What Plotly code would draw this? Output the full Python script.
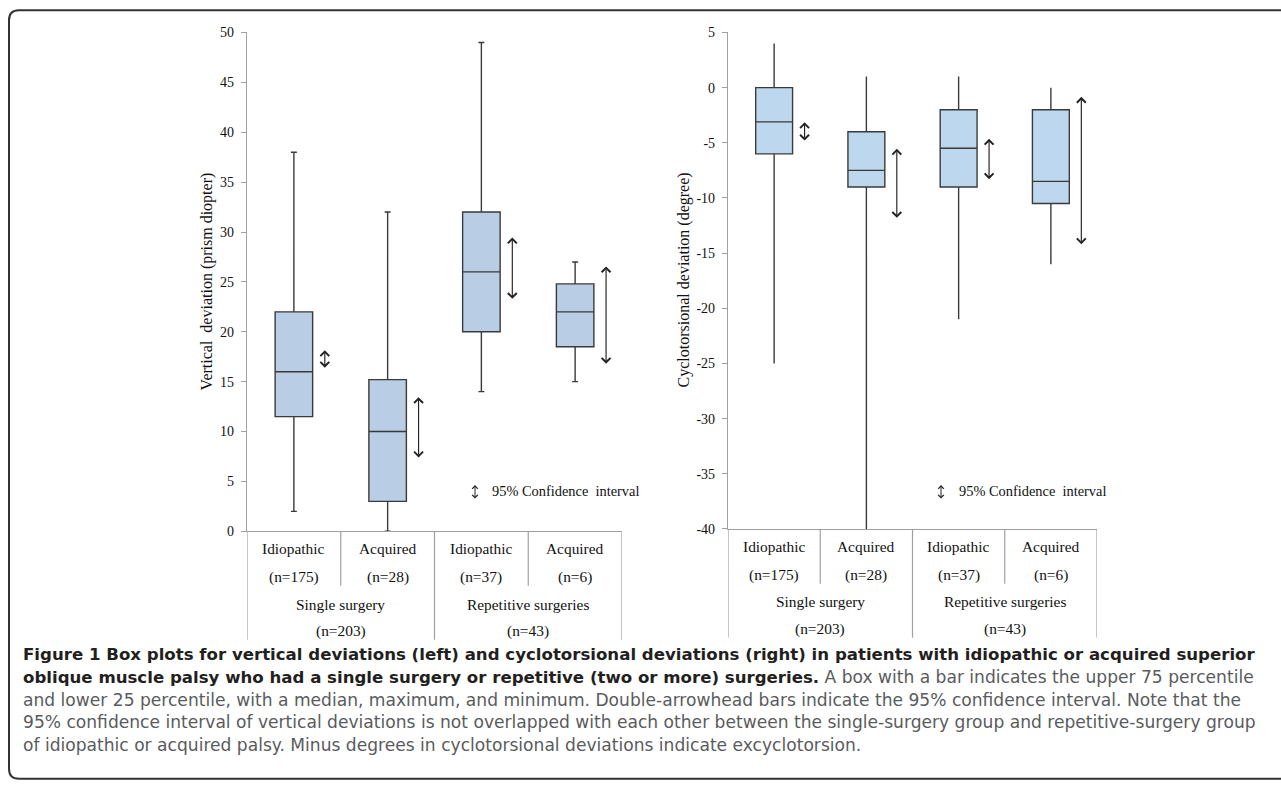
import plotly.graph_objects as go

# ---------------- data ----------------
sub_labels = ["Idiopathic", "Acquired", "Idiopathic", "Acquired"]
sub_n = ["(n=175)", "(n=28)", "(n=37)", "(n=6)"]
group_labels = ["Single surgery", "Repetitive surgeries"]
group_n = ["(n=203)", "(n=43)"]

vert_min = [2, 0, 14, 15]
vert_q1 = [11.5, 3, 20, 18.5]
vert_med = [16, 10, 26, 22]
vert_q3 = [22, 15.2, 32, 24.8]
vert_max = [38, 32, 49, 27]
vert_ci_low = [16.4, 7.4, 23.3, 16.8]
vert_ci_high = [18.3, 13.6, 29.6, 26.7]
vert_ticks = [0, 5, 10, 15, 20, 25, 30, 35, 40, 45, 50]

cyc_min = [-25, -40, -21, -16]
cyc_q1 = [-6, -9, -9, -10.5]
cyc_med = [-3.1, -7.5, -5.5, -8.5]
cyc_q3 = [0, -4, -2, -2]
cyc_max = [4, 1, 1, 0]
cyc_ci_low = [-4.8, -11.8, -8.3, -14.2]
cyc_ci_high = [-3.0, -5.4, -4.5, -0.7]
cyc_ticks = [-40, -35, -30, -25, -20, -15, -10, -5, 0, 5]

caption_lines = [
    ("Figure 1 Box plots for vertical deviations (left) and cyclotorsional deviations (right) in patients with idiopathic or acquired superior", ""),
    ("oblique muscle palsy who had a single surgery or repetitive (two or more) surgeries.", " A box with a bar indicates the upper 75 percentile"),
    ("", "and lower 25 percentile, with a median, maximum, and minimum. Double-arrowhead bars indicate the 95% confidence interval. Note that the"),
    ("", "95% confidence interval of vertical deviations is not overlapped with each other between the single-surgery group and repetitive-surgery group"),
    ("", "of idiopathic or acquired palsy. Minus degrees in cyclotorsional deviations indicate excyclotorsion."),
]

# ---------------- layout helpers ----------------
W, H = 1281, 789
VS = 805 / 789  # vertical correction of the photographed page

def px(x):
    return x / W

def py(y):
    # y: target pixel row in the photographed picture
    return 1 - (y * VS - 8) / H

SERIF = "Liberation Serif"
pos = [0, 1, 2, 3]
BOX_LINE = "#3a3a3a"
AX_COL = "#a0a0a0"
TXT = "#111111"

fig = go.Figure()

fig.add_trace(go.Box(
    x=pos, q1=vert_q1, median=vert_med, q3=vert_q3,
    lowerfence=vert_min, upperfence=vert_max,
    xaxis="x", yaxis="y", width=0.4, whiskerwidth=0.16,
    fillcolor="#b9cde5", line=dict(color=BOX_LINE, width=1.4),
    boxpoints=False, showlegend=False, hoverinfo="skip",
))
fig.add_trace(go.Box(
    x=pos, q1=cyc_q1, median=cyc_med, q3=cyc_q3,
    lowerfence=cyc_min, upperfence=cyc_max,
    xaxis="x2", yaxis="y2", width=0.4, whiskerwidth=0.0,
    fillcolor="#bdd7ee", line=dict(color=BOX_LINE, width=1.4),
    boxpoints=False, showlegend=False, hoverinfo="skip",
))

annotations = []
shapes = []

# CI arrows
def ci_arrows(lo, hi, xr, yr):
    for i, (a, b) in enumerate(zip(lo, hi)):
        annotations.append(dict(
            x=i + 0.33, y=a, ax=i + 0.33, ay=b,
            xref=xr, yref=yr, axref=xr, ayref=yr,
            text="", showarrow=True, arrowside="end+start",
            arrowhead=4, startarrowhead=4, arrowsize=1.5, startarrowsize=1.5,
            arrowwidth=1.15, arrowcolor="#222222",
        ))
ci_arrows(vert_ci_low, vert_ci_high, "x", "y")
ci_arrows(cyc_ci_low, cyc_ci_high, "x2", "y2")

def label(x, y, text, xref="paper", size=15.4, xanchor="center", **kw):
    annotations.append(dict(x=x, y=y, xref=xref, yref="paper", text=text, showarrow=False,
                            xanchor=xanchor, yanchor="middle",
                            font=dict(family=kw.get("family", SERIF), size=size,
                                      color=kw.get("color", TXT)),
                            textangle=kw.get("textangle", 0)))

# panels: (xref, axis bottom px, label ys, full line bottom, short line bottom)
panels = [
    ("x", 531.7, [549, 577, 605, 631], 640, 586),
    ("x2", 529.3, [547, 575, 602, 629], 638, 584),
]
for xr, ybot, ys, full_b, short_b in panels:
    for i in pos:
        label(i, py(ys[0]), sub_labels[i], xref=xr)
        label(i, py(ys[1]), sub_n[i], xref=xr)
    for g in range(2):
        label(2 * g + 0.5, py(ys[2]), group_labels[g], xref=xr)
        label(2 * g + 0.5, py(ys[3]), group_n[g], xref=xr)
    for b in [-0.5, 1.5, 3.5]:
        shapes.append(dict(type="line", xref=xr, yref="paper", x0=b, x1=b,
                           y0=py(ybot), y1=py(full_b), line=dict(color=AX_COL, width=1.2)))
    for b in [0.5, 2.5]:
        shapes.append(dict(type="line", xref=xr, yref="paper", x0=b, x1=b,
                           y0=py(ybot), y1=py(short_b), line=dict(color=AX_COL, width=1.2)))

# legends "95% Confidence interval"
for ax_x, tx in [(475, 490), (941, 957)]:
    annotations.append(dict(x=px(ax_x), y=py(499), xref="paper", yref="paper",
                            ax=0, ay=-15, text="", showarrow=True, arrowside="end+start",
                            arrowhead=4, startarrowhead=4, arrowsize=1.1, startarrowsize=1.1,
                            arrowwidth=1.0, arrowcolor="#222222"))
    label(px(tx), py(491), "95% Confidence&nbsp; interval", size=14.4, xanchor="left")

# y-axis titles
label(px(207), py(282), "Vertical&nbsp; deviation (prism diopter)", size=16, textangle=-90)
label(px(684), py(281), "Cyclotorsional deviation (degree)", size=16, textangle=-90)

# caption
cap_y = [655, 677.5, 700, 722.5, 745]
for (bold, reg), yy in zip(caption_lines, cap_y):
    t = ""
    if bold:
        t += "<b><span style='font-size:16.6px'>" + bold + "</span></b>"
    if reg:
        t += "<span style='color:#5a5b5d'>" + reg + "</span>"
    label(px(21), py(yy), t, size=17.1, xanchor="left", family="DejaVu Sans", color="#231f20")

# frame
r = 10
x0, y0, y1, xr_ = 9, 11, 779, 1300
path = (f"M {px(xr_)},{py(y0)} L {px(x0 + r)},{py(y0)} Q {px(x0)},{py(y0)} {px(x0)},{py(y0 + r)} "
        f"L {px(x0)},{py(y1 - r)} Q {px(x0)},{py(y1)} {px(x0 + r)},{py(y1)} L {px(xr_)},{py(y1)}")
shapes.append(dict(type="path", xref="paper", yref="paper", path=path,
                   line=dict(color="#333333", width=2)))

axis_common = dict(showgrid=False, zeroline=False, showline=True, linecolor=AX_COL, linewidth=1.2)

fig.update_layout(
    width=W, height=H, margin=dict(l=0, r=0, t=0, b=0),
    paper_bgcolor="white", plot_bgcolor="white",
    showlegend=False,
    xaxis=dict(domain=[px(247), px(622)], range=[-0.5, 3.5], showticklabels=False, ticks="",
               anchor="y", **axis_common),
    yaxis=dict(domain=[py(531.7), py(33.3)], range=[0, 50], tickvals=vert_ticks,
               ticktext=[str(v) for v in vert_ticks], ticks="outside",
               ticklen=5, tickcolor=AX_COL, anchor="x", ticklabelstandoff=4,
               tickfont=dict(family=SERIF, size=14, color=TXT), **axis_common),
    xaxis2=dict(domain=[px(728), px(1097)], range=[-0.5, 3.5], showticklabels=False, ticks="",
                anchor="y2", **axis_common),
    yaxis2=dict(domain=[py(529.3), py(33.3)], range=[-40, 5], tickvals=cyc_ticks,
                ticktext=[str(v) for v in cyc_ticks], ticks="outside",
                ticklen=5, tickcolor=AX_COL, anchor="x2", ticklabelstandoff=4,
                tickfont=dict(family=SERIF, size=14, color=TXT), **axis_common),
    annotations=annotations, shapes=shapes,
)

fig.write_html(
    "out.html", config={"displayModeBar": False},
    post_script="document.body.style.margin='0';",
)
